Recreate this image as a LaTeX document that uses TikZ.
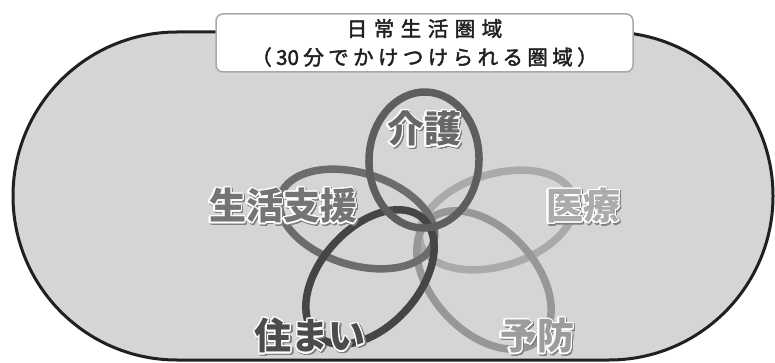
\documentclass[tikz,border=0pt]{standalone}
\usepackage{fontspec}
\usepackage{contour}
\usetikzlibrary{shapes.geometric,shapes.misc}
\newfontfamily\jp{Noto Sans CJK JP}
\newfontfamily\jpt{Noto Sans CJK JP}[FakeBold=2]
\contourlength{1.3pt}
\contournumber{24}
\definecolor{ink}{HTML}{231F20}
\definecolor{bgray}{HTML}{D4D5D7}
\definecolor{boxgray}{HTML}{A8A8A8}
\definecolor{cKaigo}{HTML}{5E5E60}
\definecolor{cSeikatsu}{HTML}{6C6C6E}
\definecolor{cSumai}{HTML}{454547}
\definecolor{cIryo}{HTML}{AAAAAC}
\definecolor{cYobo}{HTML}{979799}
\definecolor{tKaigo}{HTML}{686868}
\definecolor{tSeikatsu}{HTML}{747474}
\definecolor{tSumai}{HTML}{4C4C4C}
\definecolor{tIryo}{HTML}{ABABAB}
\definecolor{tYobo}{HTML}{9C9C9C}
\newcommand\ksa{\kern6.5pt}
\newcommand\ksb{\kern4.4pt}
\newcommand\lbl[2]{%
  \makebox[0pt][l]{\kern1.4pt\raisebox{-1.4pt}{\contour{black!50}{\textcolor{black!50}{#2}}}}%
  \contour{white}{\textcolor{#1}{#2}}}
\begin{document}
\begin{tikzpicture}[x=1pt,y=-1pt,
  ring/.style={ellipse, line width=7.5pt, inner sep=0pt},
  lab/.style={inner sep=0pt, font=\jp\bfseries\fontsize{37}{37}\selectfont},
]
\useasboundingbox (0,0) rectangle (775,363);
\fill[white] (0,0) rectangle (775,363);
\node[rounded rectangle, draw=ink, fill=bgray, line width=3pt,
      minimum width=760pt, minimum height=328pt, inner sep=0pt] (area) at (393,196) {};
% rings
\node[ring, draw=cIryo, minimum width=160pt, minimum height=92pt, rotate=17] (iryo) at (497,220) {};
\node[ring, draw=cYobo, minimum width=163pt, minimum height=103pt, rotate=-47] (yobo) at (484,280) {};
\node[ring, draw=cSeikatsu, minimum width=160pt, minimum height=92pt, rotate=-17] (seikatsu) at (357,219) {};
\node[ring, draw=cSumai, minimum width=158pt, minimum height=98pt, rotate=48] (sumai) at (370,277) {};
\node[ring, draw=cKaigo, minimum width=110pt, minimum height=136pt, rotate=-2] (kaigo) at (424,160) {};
% labels
\node[lab] (lkaigo) at (424,130) {\lbl{tKaigo}{介護}};
\node[lab] (lseikatsu) at (283,207) {\lbl{tSeikatsu}{生活支援}};
\node[lab] (liryo) at (583,207) {\lbl{tIryo}{医療}};
\node[lab] (lsumai) at (310,337) {\lbl{tSumai}{住まい}};
\node[lab] (lyobo) at (537,337) {\lbl{tYobo}{予防}};
% title
\node[draw=boxgray, fill=white, line width=1.5pt, rounded corners=7pt,
      minimum width=417pt, minimum height=58pt, inner sep=0pt, align=center,
      text=ink, font=\jpt\fontsize{20.5}{28.5}\selectfont] (title) at (424.5,43)
  {日\ksa 常\ksa 生\ksa 活\ksa 圏\ksa 域\\（\ksb 30\ksb 分\ksb で\ksb か\ksb け\ksb つ\ksb け\ksb ら\ksb れ\ksb る\ksb 圏\ksb 域\ksb ）};
\end{tikzpicture}
\end{document}
